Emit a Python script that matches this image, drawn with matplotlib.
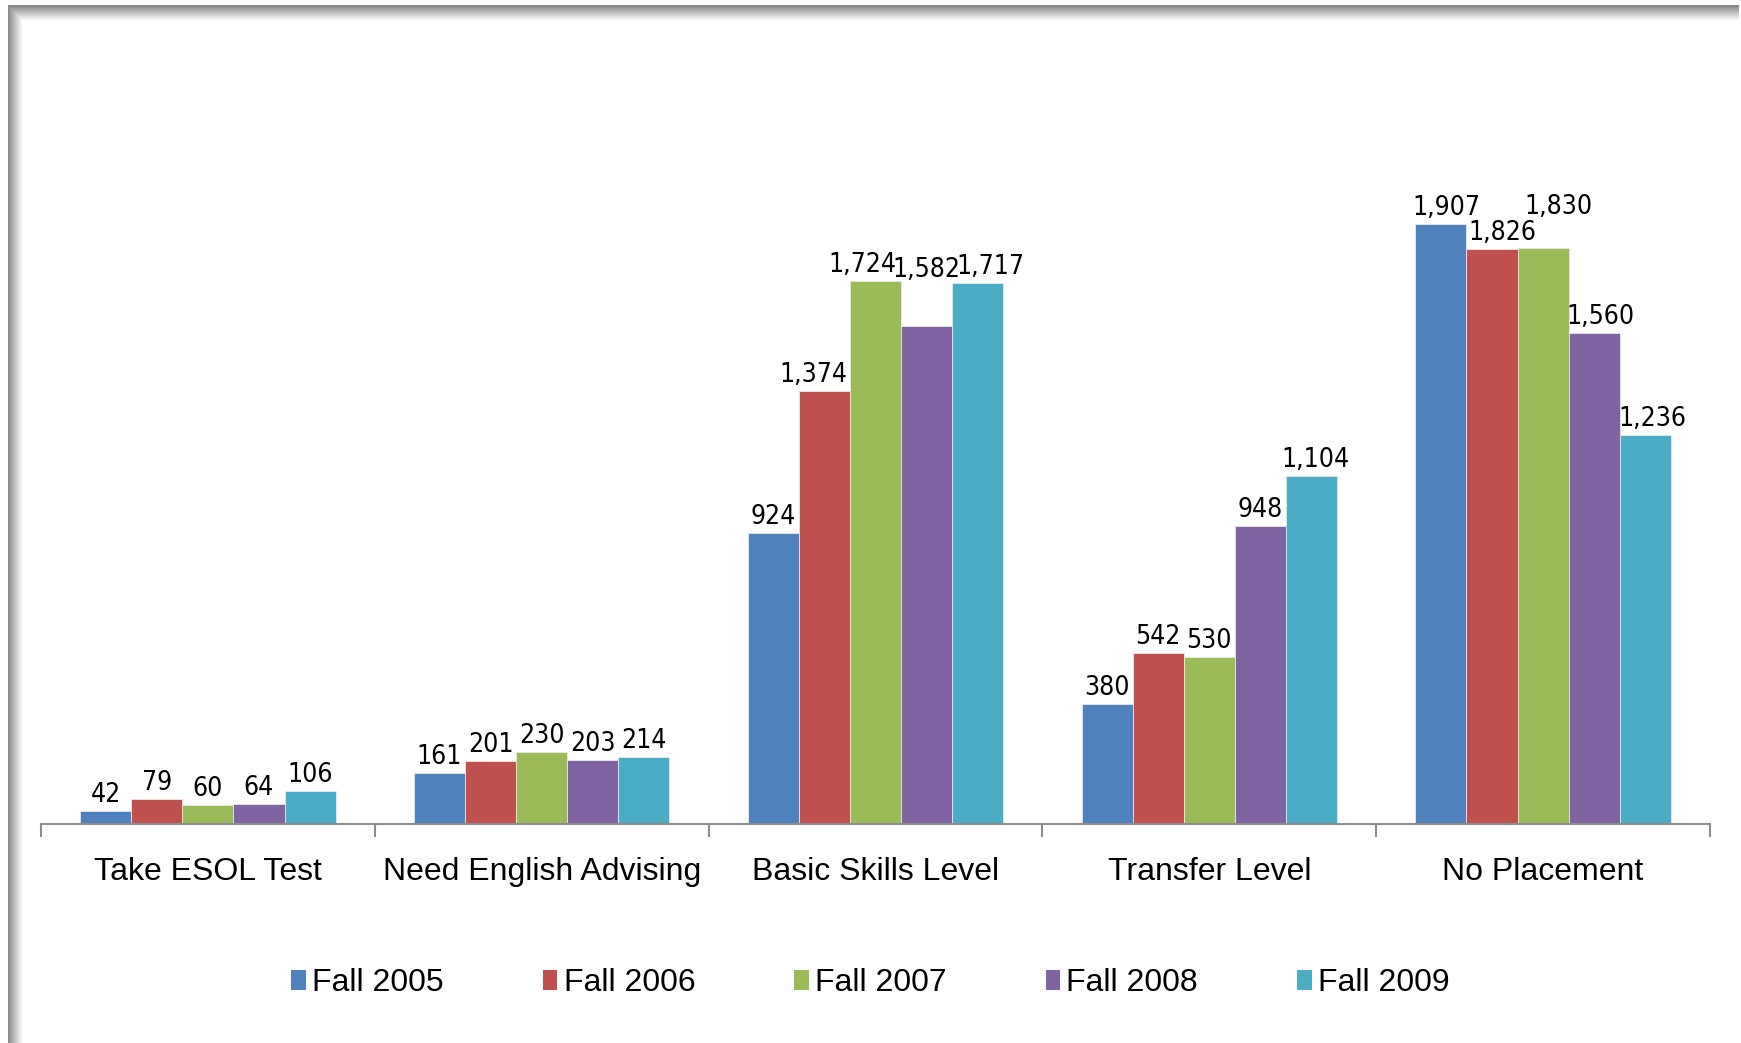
import numpy as np
import matplotlib
matplotlib.use("Agg")
import matplotlib.pyplot as plt
from matplotlib.patches import Patch
from matplotlib import font_manager

categories = ["Take ESOL Test", "Need English Advising", "Basic Skills Level",
              "Transfer Level", "No Placement"]
series = ["Fall 2005", "Fall 2006", "Fall 2007", "Fall 2008", "Fall 2009"]
fall_2005 = [42, 161, 924, 380, 1907]
fall_2006 = [79, 201, 1374, 542, 1826]
fall_2007 = [60, 230, 1724, 530, 1830]
fall_2008 = [64, 203, 1582, 948, 1560]
fall_2009 = [106, 214, 1717, 1104, 1236]
colors = ["#4F81BD", "#C0504D", "#9BBB59", "#8064A2", "#4BACC6"]

values = [fall_2005, fall_2006, fall_2007, fall_2008, fall_2009]

# label nudges in pixels (series, category) -> (dx, dy), as in the original
nudges = {(1, 2): (-11, 0), (2, 2): (-13, 0), (3, 2): (0, 40), (4, 2): (13, 0),
          (0, 4): (5, 0), (1, 4): (10, 0), (2, 4): (15, 25), (3, 4): (6, 0),
          (4, 4): (7, 0), (4, 3): (4, 0)}

# pick a narrow, regular-weight font for the value labels if one is installed
narrow = None
for f in font_manager.fontManager.ttflist:
    regular = f.weight in (400, "normal", "regular", "book") and f.style == "normal"
    if regular and ("Narrow" in f.name or "Condensed" in f.name
                    or f.stretch in ("condensed", "semi-condensed")) and "Mono" not in f.name:
        narrow = (f.name, f.stretch)
        break
if narrow is None:
    narrow = ("DejaVu Sans", "normal")
label_size = 24 if narrow[0] != "DejaVu Sans" else 19

plt.rcParams["font.family"] = ["Liberation Sans", "DejaVu Sans"]
W, H = 1741, 1043
fig = plt.figure(figsize=(W / 100, H / 100), dpi=100)

# shadowed frame along top and left edge
img = np.ones((H, W, 3))
top = np.linspace(0.52, 1.0, 16)
for i, g in enumerate(top):
    img[5 + i, 8:1739, :] = np.minimum(img[5 + i, 8:1739, :], g)
left = np.linspace(0.55, 1.0, 15)
for i, g in enumerate(left):
    img[5:, 8 + i, :] = np.minimum(img[5:, 8 + i, :], g)
fig.figimage(img, xo=0, yo=0, origin="upper", zorder=-5)

ax = fig.add_axes([41 / W, 1 - 824 / H, (1710 - 41) / W, (824 - 37) / H])
ax.set_facecolor("none")

x = np.arange(len(categories))
width = 0.153
for k, (name, vals, c) in enumerate(zip(series, values, colors)):
    pos = x + (k - 2) * width
    ax.bar(pos, vals, width, color=c, edgecolor="#e8e8e8", linewidth=0.6,
           label=name, zorder=2)
    for j, (p, v) in enumerate(zip(pos, vals)):
        dx, dy = nudges.get((k, j), (0, 0))
        ax.annotate(f"{v:,}", (p, v), xytext=(dx * 0.72, (dy + 3) * 0.72),
                    textcoords="offset points", ha="center", va="bottom",
                    fontsize=label_size, family=narrow[0], fontstretch=narrow[1],
                    fontweight="normal")

ax.set_xlim(-0.5, len(categories) - 0.5)
ax.set_ylim(0, 2500)
for s in ["top", "right", "left"]:
    ax.spines[s].set_visible(False)
ax.spines["bottom"].set_color("#8c8c8c")
ax.spines["bottom"].set_linewidth(1.5)
ax.set_yticks([])
ax.set_xticks(x)
ax.set_xticklabels(categories, fontsize=23)
ax.tick_params(axis="x", which="major", length=0, pad=24)
ax.set_xticks(np.arange(-0.5, len(categories), 1.0), minor=True)
ax.tick_params(axis="x", which="minor", length=9, width=1.5, color="#8c8c8c")

handles = [Patch(facecolor=c, label=n) for n, c in zip(series, colors)]
fig.legend(handles=handles, loc="center", bbox_to_anchor=(0.5, 1 - 983 / H), ncol=5,
           frameon=False, fontsize=23, handlelength=0.45, handleheight=0.6,
           handletextpad=0.2, columnspacing=3.1)

fig.savefig("out.png", dpi=100)
